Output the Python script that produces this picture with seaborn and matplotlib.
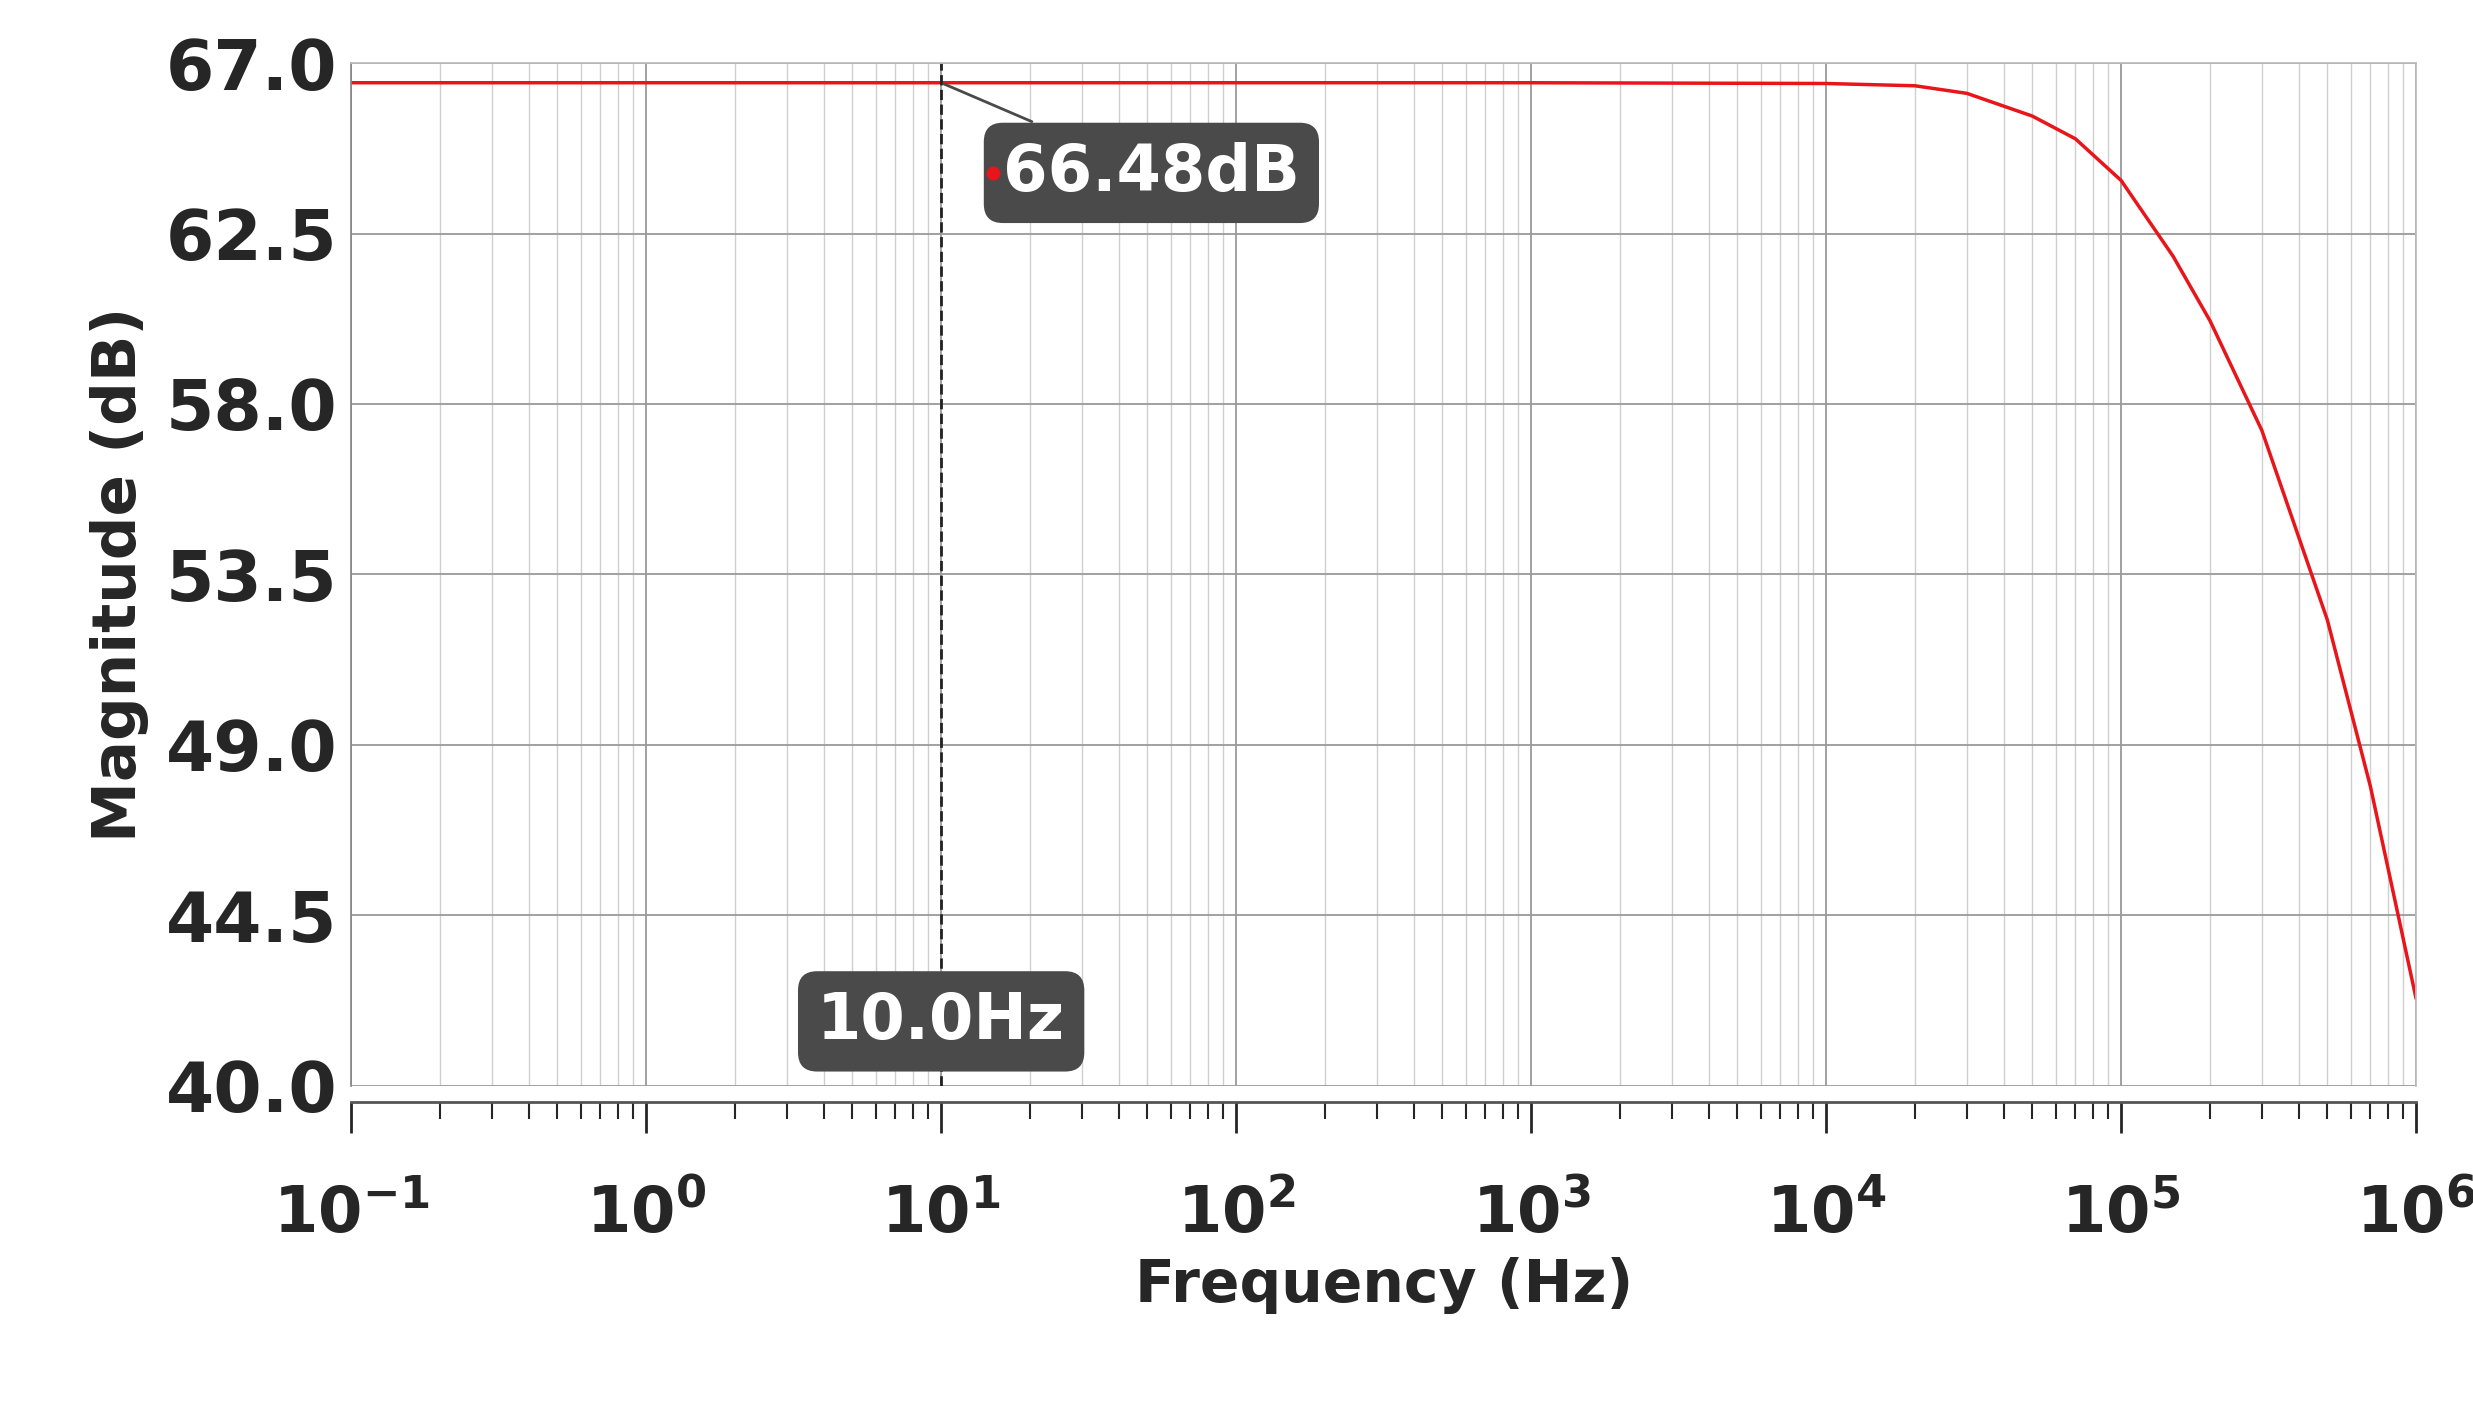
import matplotlib.pyplot as plt
import numpy as np
import seaborn as sns

# data
freq_hz = [0.1, 1, 10, 100, 1e3, 1e4, 2e4, 3e4, 5e4, 7e4, 1e5, 1.5e5, 2e5, 3e5, 5e5, 7e5, 1e6]
mag_db = [66.48, 66.48, 66.48, 66.48, 66.48, 66.46, 66.4, 66.2, 65.6, 65.0, 63.9, 61.9, 60.2, 57.3, 52.3, 47.9, 42.3]
yticks = [40.0, 44.5, 49.0, 53.5, 58.0, 62.5, 67.0]
cursor_f = 10.0
marker_f, marker_y = 15.0, 64.1

sns.set_theme(style="white")
plt.rcParams["font.family"] = ["DejaVu Sans"]
plt.rcParams["font.weight"] = "bold"

fig = plt.figure(figsize=(24.73, 14.01), dpi=100)
ax = fig.add_axes([0.142, 0.225, 0.835, 0.73])

sns.lineplot(x=freq_hz, y=mag_db, ax=ax, color="#e8151b", linewidth=2.5)
ax.set_xscale("log")
ax.set_xlim(0.1, 1e6)
ax.set_ylim(40, 67)
ax.set_yticks(yticks)
ax.set_yticklabels([f"{v:.1f}" for v in yticks], fontsize=50)
ax.tick_params(axis="x", which="major", labelsize=46, length=22, width=2, pad=36, direction="out", bottom=True)
ax.tick_params(axis="x", which="minor", length=12, width=1.5, direction="out", bottom=True)
ax.tick_params(axis="y", length=0, pad=10)

ax.grid(True, which="major", color="#9a9a9a", linewidth=1.3)
ax.grid(True, which="minor", axis="x", color="#cfcfcf", linewidth=1.0)
for s in ["top", "right"]:
    ax.spines[s].set_color("#bbbbbb")
ax.spines["left"].set_color("#888888")
ax.spines["bottom"].set_position(("outward", 12))
ax.spines["bottom"].set_color("#555555")
ax.spines["bottom"].set_linewidth(2)

ax.set_xlabel("Frequency (Hz)", fontsize=42, fontweight="bold", labelpad=8)
ax.set_ylabel("Magnitude (dB)", fontsize=44, fontweight="bold", labelpad=12)

ax.axvline(cursor_f, color="#222222", linestyle="--", linewidth=2)
box = dict(boxstyle="round,pad=0.3", fc="#4a4a4a", ec="none")
ax.annotate("66.48dB", xy=(cursor_f, 66.48), xytext=(marker_f * 1.08, marker_y),
            fontsize=46, color="white", fontweight="bold", va="center", ha="left", bbox=box,
            arrowprops=dict(arrowstyle="-", color="#4a4a4a", lw=2))
ax.plot([marker_f], [marker_y], "o", color="#e8151b", markersize=9, zorder=10)
ax.text(cursor_f, 41.7, "10.0Hz", fontsize=46, color="white", fontweight="bold",
        ha="center", va="center", bbox=box)

fig.savefig("out.png", dpi=100)
